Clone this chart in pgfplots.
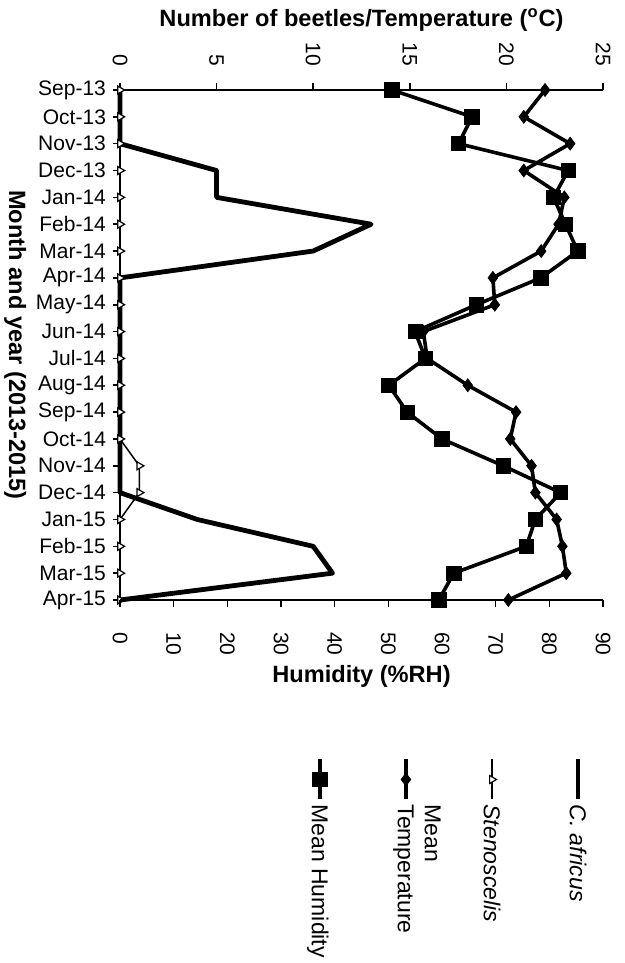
\documentclass[border=0pt]{standalone}
\usepackage{pgfplots}
\pgfplotsset{compat=1.18}
\usepackage{pgfplotstable}
\usepackage{fontspec}
\setmainfont{Liberation Sans}

\pgfplotstableread{
i beetle steno temp hum
0 0 0 22.0 50.7
1 0 0 20.9 65.6
2 0 0 23.3 63.1
3 5 0 20.9 83.5
4 5 0 23.0 80.8
5 13 0 22.7 83.0
6 10 0 21.8 85.3
7 0 0 19.3 78.4
8 0 0 19.4 66.4
9 0 0 15.7 55.0
10 0 0 15.9 56.9
11 0 0 18.0 50.1
12 0 0 20.5 53.5
13 0 0 20.2 60.0
14 0 1 21.3 71.4
15 0 1 21.5 82.1
16 4 0 22.6 77.4
17 10 0 22.9 75.7
18 11 0 23.1 62.2
19 0 0 20.1 59.4
}\datatable

\begin{document}
\begin{tikzpicture}
\pgfplotsset{
  common/.style={
    scale only axis, width=241.5pt, height=255pt,
    ymin=0, ymax=19, y dir=reverse,
    axis line style={-, line width=1pt},
    tick align=outside, major tick length=3.5pt,
    tick style={line width=0.8pt, black},
    /pgf/number format/assume math mode=true,
    tick label style={font=\fontsize{10.5}{12}\selectfont},
    clip=false,
  },
  vleg/.style={legend image code/.code={%
     \draw[##1, mark repeat=2, mark phase=2] plot coordinates {(0pt,0pt) (0pt,-10pt) (0pt,-20pt)};
     \path[draw=none, fill=none] (-21pt,0pt) (21pt,0pt);
     \node[rotate=-90, anchor=base west, inner sep=0pt, align=left, draw=none, fill=none,
           font=\fontsize{11.5}{13.5}\selectfont] at (-4pt,-22.5pt) {#1};}},
  africus/.style={black, line width=2.4pt, line join=round},
  steno/.style={black, line width=0.75pt, mark=triangle*, mark size=2.3pt, mark options={fill=white, line width=0.6pt, rotate=-90}},
  temp/.style={black, line width=1.8pt, mark=diamond*, mark size=3.2pt, mark options={line width=0.4pt}},
  hum/.style={black, line width=1.8pt, mark=square*, mark size=3.6pt, mark options={line width=0.4pt}},
}
\begin{axis}[
  common, name=ax,
  xmin=0, xmax=25,
  axis x line*=top, axis y line*=left,
  xtick={0,5,...,25},
  ytick={0,...,19},
  yticklabels={Sep-13,Oct-13,Nov-13,Dec-13,Jan-14,Feb-14,Mar-14,Apr-14,May-14,Jun-14,Jul-14,Aug-14,Sep-14,Oct-14,Nov-14,Dec-14,Jan-15,Feb-15,Mar-15,Apr-15},
  xticklabel style={yshift=5pt, rotate=-90, anchor=east},
  xlabel={\bfseries Number of beetles/Temperature (\textsuperscript{o}C)},
  every axis x label/.style={at={(axis description cs:0.5,1.137)}, anchor=center, font=\fontsize{11.8}{14}\selectfont\bfseries},
  ylabel={\bfseries Month and year (2013-2015)},
  every axis y label/.style={at={(axis description cs:-0.217,0.5)}, anchor=center, rotate=-90, font=\fontsize{11.8}{14}\selectfont\bfseries},
]
\addplot[africus] table[x=beetle, y=i] {\datatable};
\addplot[steno] table[x=steno, y=i] {\datatable};
\addplot[temp] table[x=temp, y=i] {\datatable};
\end{axis}
\begin{axis}[
  common,
  xmin=0, xmax=90,
  axis x line*=bottom, axis y line=none,
  xtick={0,10,...,90},
  xticklabel style={yshift=-9pt, rotate=-90, anchor=west},
  xlabel={\bfseries Humidity (\%RH)},
  every axis x label/.style={at={(axis description cs:0.5,-0.150)}, anchor=center, font=\fontsize{11.8}{14}\selectfont\bfseries},
  legend columns=4,
  legend style={at={(axis description cs:0.327,-0.308)}, anchor=north west, draw=none, fill=none,
    inner sep=0pt, outer sep=0pt, column sep=0pt, nodes={inner sep=0pt},
    /tikz/every even column/.style={column sep=0pt}, /tikz/every odd column/.style={column sep=0pt}},
]
\addplot[hum, forget plot] table[x=hum, y=i] {\datatable};
\addlegendimage{hum, vleg={Mean Humidity}}
\addlegendentry{}
\addlegendimage{temp, vleg={Mean\\Temperature}}
\addlegendentry{}
\addlegendimage{steno, vleg={\itshape Stenoscelis}}
\addlegendentry{}
\addlegendimage{africus, vleg={\itshape C. africus}}
\addlegendentry{}
\end{axis}
\pgfresetboundingbox
\path[use as bounding box] ([xshift=-60pt,yshift=-181.5pt]ax.south west) rectangle ([xshift=252.5pt,yshift=300pt]ax.south west);
\end{tikzpicture}
\end{document}
